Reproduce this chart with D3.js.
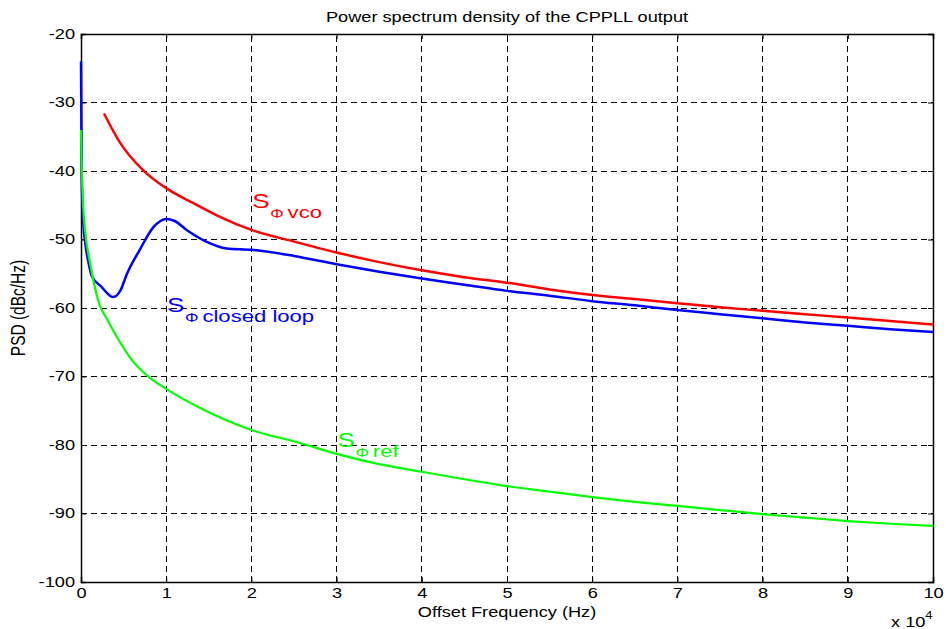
<!DOCTYPE html>
<html>
<head>
<meta charset="utf-8">
<script src="https://cdn.jsdelivr.net/npm/d3@7"></script>
<style>
  body { margin: 0; background: #fff; }
  text { font-family: "Liberation Sans", Arial, sans-serif; }
</style>
</head>
<body>
<svg id="chart"></svg>
<script>
// offset frequency in units of 1e4 Hz, PSD in dBc/Hz
const xTicks = [0, 1, 2, 3, 4, 5, 6, 7, 8, 9, 10];
const yTicks = [-100, -90, -80, -70, -60, -50, -40, -30, -20];

const loopFreq = [0, 0.008, 0.02, 0.05, 0.09, 0.125, 0.24, 0.375, 0.46, 0.54, 0.69, 0.85, 1.0, 1.1, 1.24, 1.47, 1.71, 2.0, 2.5, 3, 3.5, 4, 4.5, 5, 5.5, 6, 6.5, 7, 7.5, 8, 8.5, 9, 9.5, 10];
const loopPsd = [-24, -40, -46, -50.5, -53.5, -55.3, -56.9, -58.4, -57.5, -55, -51.5, -48.2, -47.0, -47.3, -48.6, -50.3, -51.3, -51.5, -52.4, -53.6, -54.7, -55.7, -56.6, -57.5, -58.2, -59.0, -59.6, -60.3, -60.9, -61.5, -62.1, -62.6, -63.1, -63.5];

const vcoFreq = [0.27, 0.46, 0.73, 1.0, 1.32, 1.63, 2.0, 2.5, 3, 3.5, 4, 4.5, 5, 5.5, 6, 6.5, 7, 7.5, 8, 8.5, 9, 9.5, 10];
const vcoPsd = [-31.6, -35.9, -39.9, -42.5, -44.7, -46.7, -48.6, -50.3, -51.9, -53.3, -54.5, -55.5, -56.3, -57.3, -58.1, -58.7, -59.3, -59.9, -60.4, -60.9, -61.4, -61.9, -62.4];

const refFreq = [0, 0.01, 0.025, 0.047, 0.106, 0.22, 0.3, 0.42, 0.61, 0.81, 1.0, 1.4, 2.0, 2.57, 3.0, 3.5, 4, 4.5, 5, 5.5, 6, 6.5, 7, 7.5, 8, 8.5, 9, 9.5, 10];
const refPsd = [-34, -40, -45, -48.6, -53.4, -59.6, -61.5, -64.2, -67.8, -70.2, -71.8, -74.6, -77.8, -79.7, -81.3, -82.8, -83.9, -85, -86, -86.8, -87.6, -88.3, -88.9, -89.5, -90.1, -90.6, -91.1, -91.5, -91.8];

const width = 946, height = 629;
const margin = {top: 34, right: 13, bottom: 47, left: 81};
const stretch = 1.3; // the picture's text is wider than it is tall

const svg = d3.select("#chart")
    .attr("width", width)
    .attr("height", height);

const x = d3.scaleLinear()
    .domain([0, 10])
    .range([margin.left, width - margin.right]);

const y = d3.scaleLinear()
    .domain([-100, -20])
    .range([height - margin.bottom, margin.top]);

// grid
svg.append("g")
    .selectAll("line")
    .data(xTicks.slice(1, -1))
    .join("line")
    .attr("x1", d => x(d)).attr("x2", d => x(d))
    .attr("y1", y(-100)).attr("y2", y(-20))
    .attr("stroke", "#000")
    .attr("stroke-dasharray", "6,4")
    .attr("shape-rendering", "crispEdges");

svg.append("g")
    .selectAll("line")
    .data(yTicks.slice(1, -1))
    .join("line")
    .attr("x1", x(0)).attr("x2", x(10))
    .attr("y1", d => y(d)).attr("y2", d => y(d))
    .attr("stroke", "#000")
    .attr("stroke-dasharray", "6,4")
    .attr("shape-rendering", "crispEdges");

// axes
const xAxis = svg.append("g")
    .attr("transform", `translate(0,${y(-100)})`)
    .call(d3.axisBottom(x).tickValues(xTicks).tickSize(-5).tickPadding(6).tickFormat(d => String(d)));

const yAxis = svg.append("g")
    .attr("transform", `translate(${x(0)},0)`)
    .call(d3.axisLeft(y).tickValues(yTicks).tickSize(-5).tickFormat(d => String(d)));

svg.append("g")
    .attr("transform", `translate(0,${y(-20)})`)
    .call(d3.axisTop(x).tickValues(xTicks).tickSize(-5).tickFormat(""));

svg.append("g")
    .attr("transform", `translate(${x(10)},0)`)
    .call(d3.axisRight(y).tickValues(yTicks).tickSize(-5).tickFormat(""));

svg.selectAll(".domain").attr("stroke", "#000").attr("stroke-width", 1.5);
svg.selectAll(".tick line").attr("stroke", "#000");
svg.selectAll(".tick text")
    .attr("font-size", 14)
    .attr("font-family", "Liberation Sans, Arial, sans-serif")
    .attr("fill", "#000")
    .attr("transform", `scale(${stretch},1)`);
yAxis.selectAll(".tick text").attr("x", -6 / stretch);

// curves
const line = d3.line()
    .x(d => x(d[0]))
    .y(d => y(d[1]))
    .curve(d3.curveMonotoneX);

const series = [
    {freq: loopFreq, psd: loopPsd, color: "#0000ff", width: 2.5},
    {freq: vcoFreq, psd: vcoPsd, color: "#ff0000", width: 2.5},
    {freq: refFreq, psd: refPsd, color: "#00ff00", width: 2.2}
];

series.forEach(s => {
    svg.append("path")
        .datum(d3.zip(s.freq, s.psd))
        .attr("fill", "none")
        .attr("stroke", s.color)
        .attr("stroke-width", s.width)
        .attr("d", line);
});

// curve labels
const labels = [
    {text: "vco", fx: 2.01, db: -45.4, color: "#ff0000"},
    {text: "closed loop", fx: 1.01, db: -60.6, color: "#0000ff"},
    {text: "ref", fx: 3.01, db: -80.3, color: "#00ff00"}
];

labels.forEach(l => {
    const t = svg.append("text")
        .attr("transform", `translate(${x(l.fx)},${y(l.db)}) scale(${stretch},1)`)
        .attr("fill", l.color)
        .attr("font-size", 20);
    t.append("tspan").text("S");
    t.append("tspan")
        .attr("dy", 10)
        .attr("dx", 0.5)
        .attr("font-size", 13)
        .text("\u03A6");
    t.append("tspan")
        .attr("dx", 3)
        .attr("font-size", 17)
        .text(l.text);
});

// titles
function stretchedText(px, py, str, size) {
    return svg.append("text")
        .attr("transform", `translate(${px},${py}) scale(${stretch},1)`)
        .attr("font-size", size)
        .text(str);
}

stretchedText((x(0) + x(10)) / 2, 22, "Power spectrum density of the CPPLL output", 14)
    .attr("text-anchor", "middle");

stretchedText((x(0) + x(10)) / 2, 617, "Offset Frequency (Hz)", 14)
    .attr("text-anchor", "middle");

svg.append("text")
    .attr("transform", `translate(25,${(y(-20) + y(-100)) / 2}) rotate(-90) scale(1,${stretch})`)
    .attr("text-anchor", "middle")
    .attr("font-size", 15.5)
    .text("PSD (dBc/Hz)");

const expo = stretchedText(891, 627, "", 14);
expo.append("tspan").text("x 10");
expo.append("tspan").attr("dy", -8).attr("font-size", 10).text("4");
</script>
</body>
</html>
